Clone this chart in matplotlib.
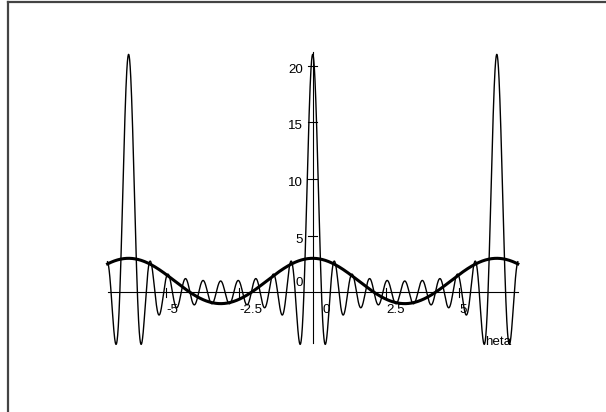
import numpy as np
import matplotlib.pyplot as plt
from matplotlib.lines import Line2D

# Dirichlet kernels D_n(theta) plotted over theta in [-7, 7]
kernel_orders = [10, 1]          # thin curve, thick curve
theta_range = [-7, 7]
x_ticks = [-5, -2.5, 0, 2.5, 5]
x_tick_labels = ['-5', '-2.5', '0', '2.5', '5']
y_ticks = [5, 10, 15, 20]
y_tick_labels = ['5', '10', '15', '20']

theta = np.linspace(theta_range[0], theta_range[1], 4001)


def dirichlet(n, t):
    return 1 + 2 * sum(np.cos(k * t) for k in range(1, n + 1))


W, H = 606, 412
fig = plt.figure(figsize=(W / 100, H / 100), dpi=100)
ax = fig.add_axes([0, 0, 1, 1])
ax.set_axis_off()

# pixel mapping: x_px = 312.7 + 29.3*x, y_px = 292.3 - 11.33*y
x0, sx = 312.7, 29.3
y0, sy = 292.3, 11.33
ax.set_xlim(-x0 / sx, (W - x0) / sx)
ax.set_ylim((y0 - H) / sy, y0 / sy)

font = dict(family=['Liberation Sans', 'DejaVu Sans'], fontsize=9.6, color='black')

# axes lines
ax.plot(theta_range, [0, 0], color='black', lw=0.8)
ax.plot([0, 0], [-4.5, 21.2], color='black', lw=0.8)

# curves
ax.plot(theta, dirichlet(kernel_orders[0], theta), color='black', lw=1.0)
ax.plot(theta, dirichlet(kernel_orders[1], theta), color='black', lw=2.2)

# x ticks
for xt, lab in zip(x_ticks, x_tick_labels):
    if xt != 0:
        ax.plot([xt, xt], [-0.4, 0.4], color='black', lw=0.8)
        ax.text(xt, -1.56, lab, ha='left', va='center', **font)
    else:
        ax.text(0.32, -1.56, lab, ha='left', va='center', **font)

# y ticks
for yt, lab in zip(y_ticks, y_tick_labels):
    ax.plot([-0.15, 0.15], [yt, yt], color='black', lw=0.8)
    ax.text(-0.33, yt - 0.35, lab, ha='right', va='center', **font)
ax.text(-0.33, 0.79, '0', ha='right', va='center', **font)

ax.text(5.88, -4.39, 'heta', ha='left', va='center', **font)

# frame (left and top edges only)
fig.add_artist(Line2D([7.5 / W, 7.5 / W], [0, 1 - 1.5 / H], color='#444444', lw=1.6,
                      transform=fig.transFigure))
fig.add_artist(Line2D([7.5 / W, 1], [1 - 1.5 / H, 1 - 1.5 / H], color='#444444', lw=1.6,
                      transform=fig.transFigure))

plt.savefig('out.png', dpi=100)
